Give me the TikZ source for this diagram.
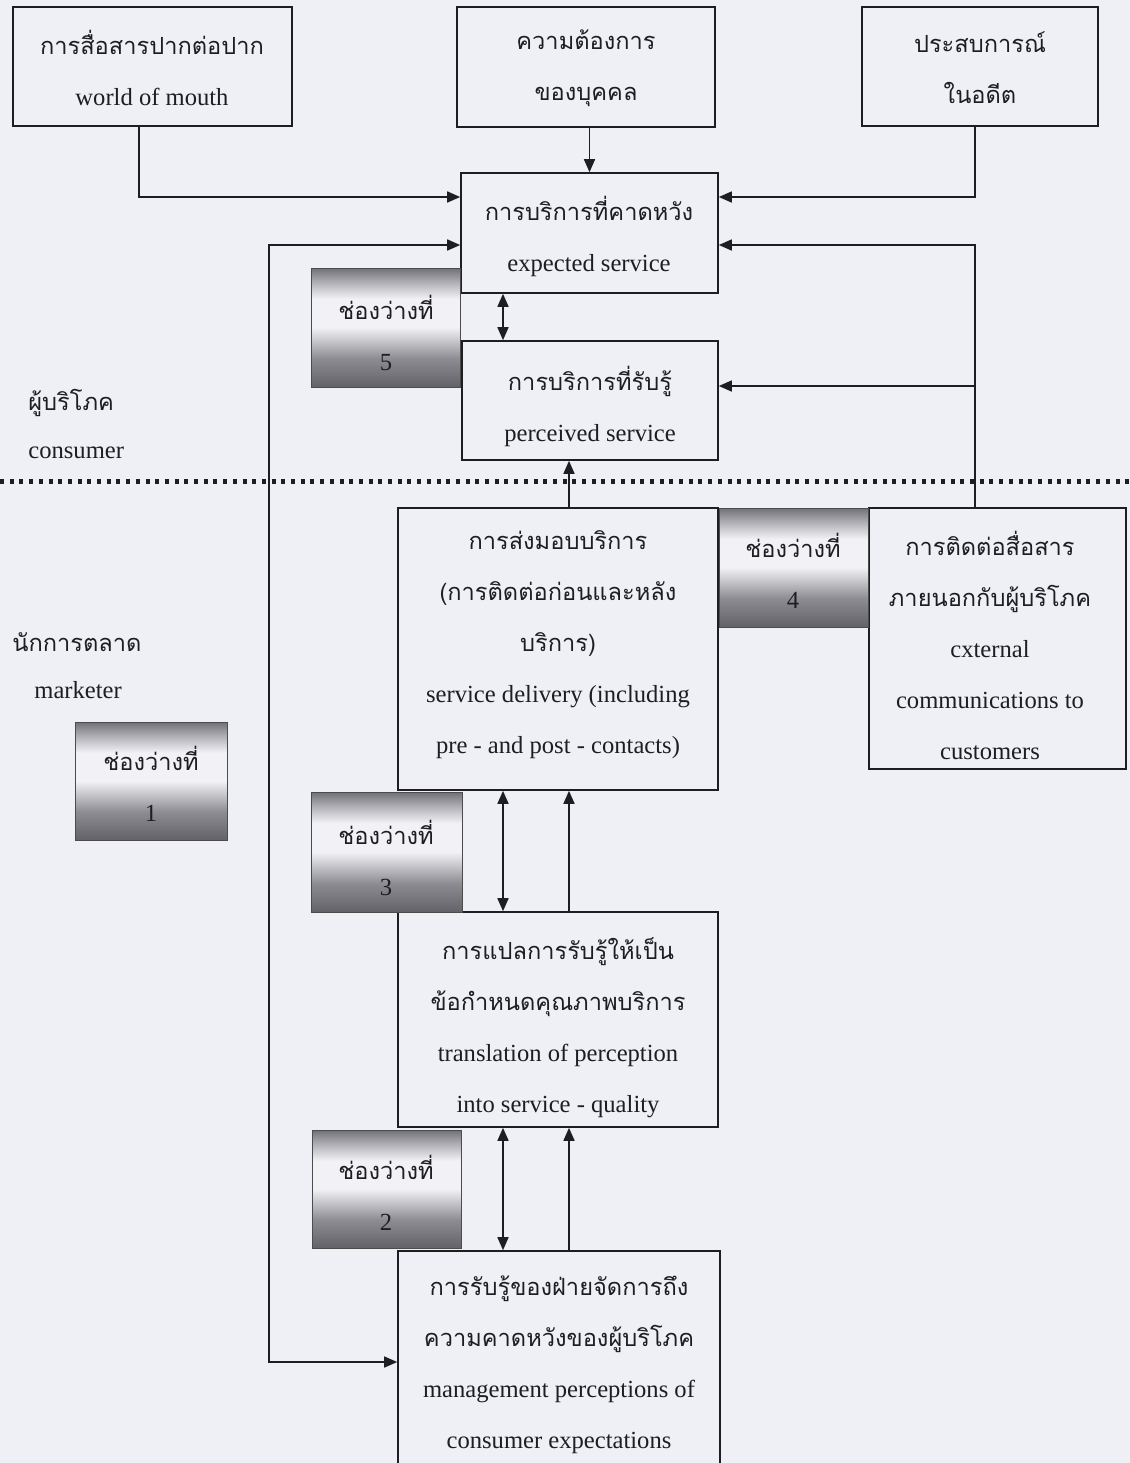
\documentclass[tikz,border=0pt]{standalone}
\usepackage{fontspec}
\setmainfont{Liberation Serif}
\newfontfamily\thaifont[Script=Thai,Scale=0.96]{Loma}
\usetikzlibrary{fit,arrows.meta}
\newcommand\tht[1]{{\thaifont #1}}
\definecolor{bg}{RGB}{238,240,246}
\definecolor{ln}{RGB}{30,30,34}
\definecolor{gdark}{RGB}{98,98,104}
\definecolor{glow}{RGB}{140,140,146}
\definecolor{gtopdark}{RGB}{112,112,118}
\definecolor{gmid}{RGB}{176,176,182}
\definecolor{glight}{RGB}{242,242,246}
\pgfdeclareverticalshading{gapshade}{100bp}{color(0bp)=(gdark); color(25bp)=(gdark); color(37bp)=(glow); color(50bp)=(glight); color(62bp)=(glight); color(69bp)=(gmid); color(75bp)=(gtopdark); color(100bp)=(gtopdark)}
\begin{document}
\begin{tikzpicture}[x=0.5pt,y=-0.5pt,
  box/.style={draw=ln, line width=0.8pt, fill=bg, inner sep=0pt},
  gapbox/.style={draw=gray!60!black, line width=0.5pt, inner sep=0pt, shading=gapshade},
  txt/.style={align=center, inner sep=0pt, text=ln, font=\fontsize{12.3}{25.5}\selectfont},
  arr/.style={draw=ln, line width=0.8pt, -{Triangle[length=6.5pt,width=5.5pt]}},
  arrboth/.style={draw=ln, line width=0.8pt, {Triangle[length=6.5pt,width=5.5pt]}-{Triangle[length=6.5pt,width=5.5pt]}},
  ln/.style={draw=ln, line width=0.8pt}]
\useasboundingbox (0,0) rectangle (1130,1463);
\fill[bg] (0,0) rectangle (1130,1463);
\begin{scope}
\clip (0,0) rectangle (1130,1463);
% coordinates for connector routing
\coordinate (xw) at (139,0);
\coordinate (xr) at (975,0);
\coordinate (xl) at (269,0);
\coordinate (xd) at (503,0);
\coordinate (xu) at (569,0);
\coordinate (y197) at (0,197);
\coordinate (y245) at (0,245);
\coordinate (y386) at (0,386);
\coordinate (y1362) at (0,1362);

% main boxes
\node[box, fit={(13,7)(292,126)}] (wom) {};
\node[box, fit={(457,7)(715,127)}] (needs) {};
\node[box, fit={(862,7)(1098,126)}] (past) {};
\node[box, fit={(461,173)(718,293)}] (expected) {};
\node[box, fit={(462,341)(718,460)}] (perceived) {};
\node[box, fit={(398,508)(718,790)}] (service) {};
\node[box, fit={(869,508)(1126,769)}] (ext) {};
\node[box, fit={(398,912)(718,1127)}] (trans) {};
\node[box, fit={(398,1251)(720,1490)}] (mgmt) {};

% gap boxes
\node[gapbox, fit={(311,268)(460,387)}] (gap5) {};
\node[gapbox, fit={(719,508)(868,627)}] (gap4) {};
\node[gapbox, fit={(75,722)(227,840)}] (gap1) {};
\node[gapbox, fit={(311,792)(462,912)}] (gap3) {};
\node[gapbox, fit={(312,1130)(461,1248)}] (gap2) {};

% texts
\node[txt] (womT) at (152,68) {\tht{การสื่อสารปากต่อปาก}\\world of mouth};
\node[txt] (needsT) at (586,68) {\tht{ความต้องการ}\\\tht{ของบุคคล}};
\node[txt] (pastT) at (980,68) {\tht{ประสบการณ์}\\\tht{ในอดีต}};
\node[txt] (expectedT) at (589,236) {\tht{การบริการที่คาดหวัง}\\expected service};
\node[txt] (perceivedT) at (590,406) {\tht{การบริการที่รับรู้}\\perceived service};
\node[txt] (serviceT) at (558,645) {\tht{การส่งมอบบริการ}\\\tht{(การติดต่อก่อนและหลัง}\\\tht{บริการ)}\\service delivery (including\\pre - and post - contacts)};
\node[txt] (extT) at (990,645) {\tht{การติดต่อสื่อสาร}\\\tht{ภายนอกกับผู้บริโภค}\\cxternal\\communications to\\customers};
\node[txt] (transT) at (558,1028) {\tht{การแปลการรับรู้ให้เป็น}\\\tht{ข้อกำหนดคุณภาพบริการ}\\translation of perception\\into service - quality};
\node[txt] (mgmtT) at (559,1365) {\tht{การรับรู้ของฝ่ายจัดการถึง}\\\tht{ความคาดหวังของผู้บริโภค}\\management perceptions of\\consumer expectations};

\node[txt] (gap5T) at (386,333) {\tht{ช่องว่างที่}\\5};
\node[txt] (gap4T) at (793,571) {\tht{ช่องว่างที่}\\4};
\node[txt] (gap1T) at (151,784) {\tht{ช่องว่างที่}\\1};
\node[txt] (gap3T) at (386,858) {\tht{ช่องว่างที่}\\3};
\node[txt] (gap2T) at (386,1193) {\tht{ช่องว่างที่}\\2};

\node[txt, anchor=west] (consTh) at (28,403) {\tht{ผู้บริโภค}};
\node[txt, anchor=west] (consEn) at (28,453) {consumer};
\node[txt, anchor=west] (mktTh) at (12,642) {\tht{นักการตลาด}};
\node[txt, anchor=west] (mktEn) at (34,690) {marketer};

% dotted divider
\coordinate (divL) at (0,481);
\coordinate (divR) at (1130,481);
\draw[ln, line width=2.5pt, dash pattern=on 2pt off 2.85pt] (divL) -- (divR);

% connectors
\draw[arr] (expected.north |- needs.south) -- (expected.north);
\draw[arr] (wom.south -| xw) |- (expected.west |- y197);
\draw[arr] (past.south -| xr) |- (expected.east |- y197);
\draw[arrboth] (expected.west |- y245) -- (xl |- y245) -- (xl |- y1362) -- (mgmt.west |- y1362);
\draw[arr] (ext.north -| xr) -- (xr |- y245) -- (expected.east |- y245);
\draw[arr] (xr |- y386) -- (perceived.east |- y386);
\draw[arrboth] (expected.south -| xd) -- (perceived.north -| xd);
\draw[arrboth] (service.south -| xd) -- (trans.north -| xd);
\draw[arrboth] (trans.south -| xd) -- (mgmt.north -| xd);
\draw[arr] (service.north -| xu) -- (perceived.south -| xu);
\draw[arr] (trans.north -| xu) -- (service.south -| xu);
\draw[arr] (mgmt.north -| xu) -- (trans.south -| xu);
\end{scope}
\end{tikzpicture}
\end{document}
